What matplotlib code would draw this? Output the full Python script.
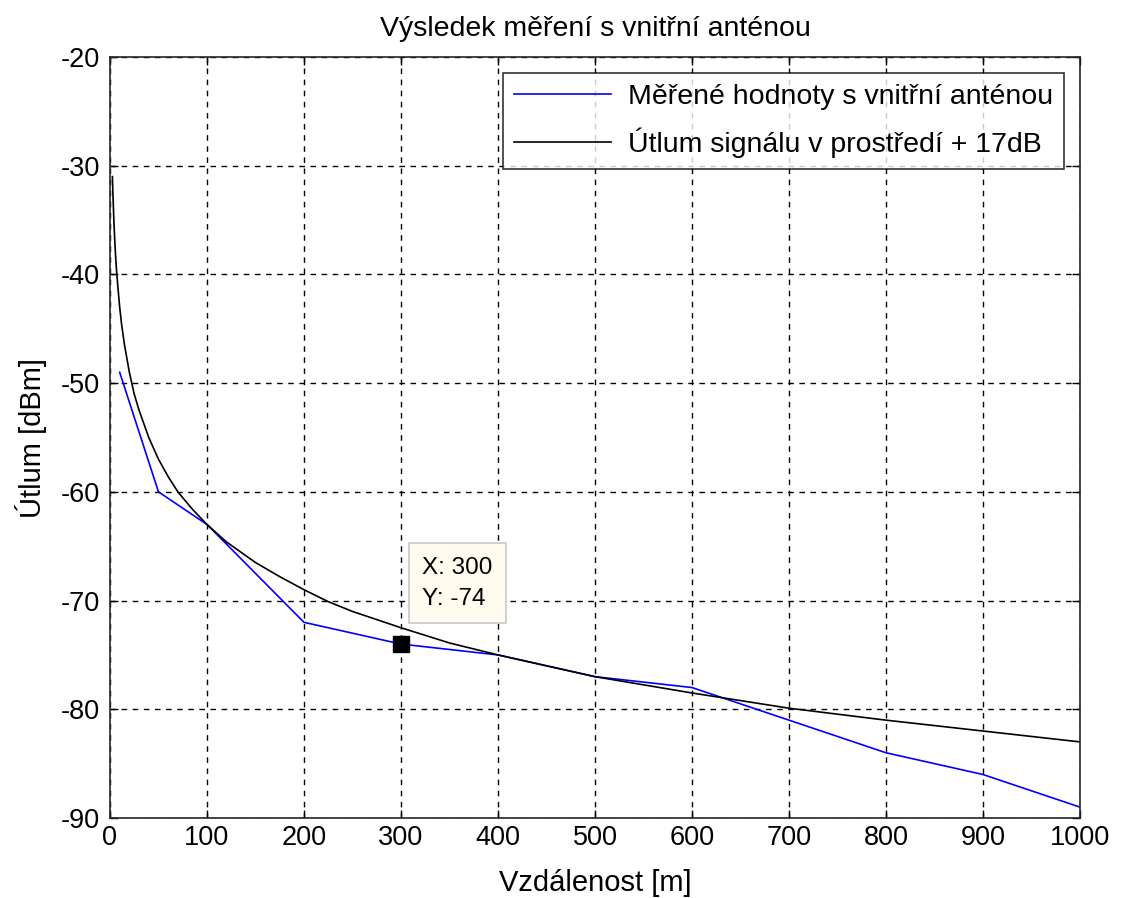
import matplotlib
matplotlib.use("Agg")
import matplotlib.pyplot as plt

# Measured values (blue)
meas_x = [10, 50, 100, 200, 300, 400, 500, 600, 700, 800, 900, 1000]
meas_y = [-49, -60, -63, -72, -74, -75, -77, -78, -81, -84, -86, -89]

# Environment attenuation + 17 dB (black)
model_x = [2.5, 3, 4, 5, 6, 7, 8, 10, 12, 15, 20, 25, 30, 40, 50, 60, 70, 85, 100,
           120, 150, 175, 200, 225, 250, 300, 350, 400, 450, 500, 600, 700, 800, 900, 1000]
model_y = [-31, -32.5, -35, -37, -38.6, -39.9, -41, -43, -44.6, -46.5, -49, -51, -52.5,
           -55, -57, -58.6, -60, -61.6, -63, -64.6, -66.5, -67.8, -69, -70.1, -71, -72.5,
           -73.9, -75, -76, -77, -78.5, -79.9, -81, -82, -83]

tip_x, tip_y = 300, -74

xticks = list(range(0, 1001, 100))
yticks = list(range(-90, -19, 10))

plt.rcParams['font.family'] = ['Liberation Sans', 'DejaVu Sans']
plt.rcParams['axes.unicode_minus'] = False

fig = plt.figure(figsize=(11.21, 8.98), dpi=100)
ax = fig.add_axes([0.0981, 0.0891, 0.8653, 0.8474])

ax.plot(meas_x, meas_y, color='#0000ff', lw=1.2, label='Měřené hodnoty s vnitřní anténou')
ax.plot(model_x, model_y, color='black', lw=1.2, label='Útlum signálu v prostředí + 17dB')

ax.set_xlim(0, 1000)
ax.set_ylim(-90, -20)
ax.set_xticks(xticks)
ax.set_yticks(yticks)
ax.tick_params(direction='in', length=6, width=1, top=True, right=True, labelsize=19.5)
ax.tick_params(axis='x', pad=5)
ax.tick_params(axis='y', pad=7)
ax.grid(True, color='black', linestyle=(0, (4, 4)), lw=1)
for s in ax.spines.values():
    s.set_linewidth(1.2)
    s.set_color('#262626')

ax.set_xlabel('Vzdálenost [m]', fontsize=21, labelpad=13)
ax.set_ylabel('Útlum [dBm]', fontsize=21, labelpad=10)
ax.set_title('Výsledek měření s vnitřní anténou', fontsize=20.5, pad=15)

leg = ax.legend(loc='upper right', fontsize=20.5, frameon=True, fancybox=False,
                edgecolor='black', handlelength=3.4, handletextpad=0.6,
                borderaxespad=0.55, borderpad=0.4, labelspacing=0.6)
leg.get_frame().set_linewidth(1.2)

# Data tip
ax.plot([tip_x], [tip_y], marker='s', color='black', ms=12, ls='none')
ax.annotate(f'X: {tip_x}\nY: {tip_y}', xy=(tip_x, tip_y), xytext=(322, -68.4),
            fontsize=17.5, ha='left', va='center', linespacing=1.55,
            bbox=dict(boxstyle='square,pad=0.55', fc='#fffbef', ec='#c8c8c8', lw=1.2))

fig.savefig('out.png', dpi=100)
